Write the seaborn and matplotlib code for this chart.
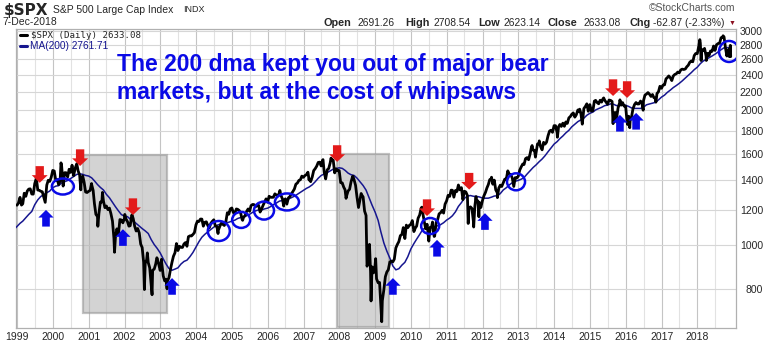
import numpy as np
import pandas as pd
import matplotlib
matplotlib.use("Agg")
import matplotlib.pyplot as plt
import matplotlib.dates as mdates
from matplotlib.patches import Ellipse, Rectangle
from matplotlib.lines import Line2D
from matplotlib.transforms import ScaledTranslation
import seaborn as sns

# ---------------- data (month-end closes, S&P 500) ----------------
close_1998 = [980.3, 1049.3, 1101.8, 1111.8, 1090.8, 1133.8, 1120.7, 957.3, 1017.0, 1098.7, 1163.6, 1229.2]
close_1999 = [1279.6, 1238.3, 1286.4, 1335.2, 1301.8, 1372.7, 1328.7, 1320.4, 1282.7, 1362.9, 1389.0, 1469.3]
close_2000 = [1394.5, 1366.4, 1498.6, 1452.4, 1420.6, 1454.6, 1430.8, 1517.7, 1436.5, 1429.4, 1315.2, 1320.3]
close_2001 = [1366.0, 1239.9, 1160.3, 1249.5, 1256.0, 1224.4, 1211.2, 1133.6, 1040.9, 1059.8, 1139.5, 1148.1]
close_2002 = [1130.2, 1106.7, 1147.4, 1076.9, 1067.1, 989.8, 911.6, 916.1, 815.3, 885.8, 936.3, 879.8]
close_2003 = [855.7, 841.2, 848.2, 916.9, 963.6, 974.5, 990.3, 1008.0, 996.0, 1050.7, 1058.2, 1111.9]
close_2004 = [1131.1, 1144.9, 1126.2, 1107.3, 1120.7, 1140.8, 1101.7, 1104.2, 1114.6, 1130.2, 1173.8, 1211.9]
close_2005 = [1181.3, 1203.6, 1180.6, 1156.9, 1191.5, 1191.3, 1234.2, 1220.3, 1228.8, 1207.0, 1249.5, 1248.3]
close_2006 = [1280.1, 1280.7, 1294.9, 1310.6, 1270.1, 1270.2, 1276.7, 1303.8, 1335.9, 1377.9, 1400.6, 1418.3]
close_2007 = [1438.2, 1406.8, 1420.9, 1482.4, 1530.6, 1503.4, 1455.3, 1474.0, 1526.8, 1549.4, 1481.1, 1468.4]
close_2008 = [1378.6, 1330.6, 1322.7, 1385.6, 1400.4, 1280.0, 1267.4, 1282.8, 1166.4, 968.8, 896.2, 903.3]
close_2009 = [825.9, 735.1, 797.9, 872.8, 919.1, 919.3, 987.5, 1020.6, 1057.1, 1036.2, 1095.6, 1115.1]
close_2010 = [1073.9, 1104.5, 1169.4, 1186.7, 1089.4, 1030.7, 1101.6, 1049.3, 1141.2, 1183.3, 1180.6, 1257.6]
close_2011 = [1286.1, 1327.2, 1325.8, 1363.6, 1345.2, 1320.6, 1292.3, 1218.9, 1131.4, 1253.3, 1247.0, 1257.6]
close_2012 = [1312.4, 1365.7, 1408.5, 1397.9, 1310.3, 1362.2, 1379.3, 1406.6, 1440.7, 1412.2, 1416.2, 1426.2]
close_2013 = [1498.1, 1514.7, 1569.2, 1597.6, 1630.7, 1606.3, 1685.7, 1633.0, 1681.6, 1756.5, 1805.8, 1848.4]
close_2014 = [1782.6, 1859.5, 1872.3, 1883.9, 1923.6, 1960.2, 1930.7, 2003.4, 1972.3, 2018.1, 2067.6, 2058.9]
close_2015 = [1995.0, 2104.5, 2067.9, 2085.5, 2107.4, 2063.1, 2103.8, 1972.2, 1920.0, 2079.4, 2080.4, 2043.9]
close_2016 = [1940.2, 1932.2, 2059.7, 2065.3, 2096.9, 2098.9, 2173.6, 2170.9, 2168.3, 2126.2, 2198.8, 2238.8]
close_2017 = [2278.9, 2363.6, 2362.7, 2384.2, 2411.8, 2423.4, 2470.3, 2471.7, 2519.4, 2575.3, 2647.6, 2673.6]
close_2018 = [2823.8, 2713.8, 2640.9, 2648.1, 2705.3, 2718.4, 2816.3, 2901.5, 2914.0, 2711.7, 2760.2, 2633.08]

# mid-month (around the 15th) levels
mid_1999 = [1243, 1230, 1307, 1322, 1337, 1301, 1409, 1327, 1317, 1247, 1397, 1418]
mid_2000 = [1465, 1402, 1392, 1356, 1452, 1478, 1509, 1484, 1465, 1374, 1383, 1312]
mid_2001 = [1326, 1326, 1173, 1179, 1250, 1214, 1202, 1178, 1038, 1089, 1142, 1123]
mid_2002 = [1147, 1104, 1166, 1103, 1091, 1007, 918, 930, 892, 881, 909, 910]
mid_2003 = [918, 834, 833, 885, 946, 1010, 996, 990, 1015, 1046, 1050, 1068]
mid_2004 = [1133, 1145, 1104, 1129, 1095, 1132, 1106, 1081, 1121, 1108, 1183, 1206]
mid_2005 = [1184, 1206, 1197, 1142, 1165, 1206, 1227, 1233, 1227, 1187, 1229, 1270]
mid_2006 = [1287, 1280, 1303, 1289, 1294, 1256, 1236, 1285, 1319, 1369, 1396, 1427]
mid_2007 = [1431, 1456, 1387, 1468, 1501, 1533, 1549, 1407, 1484, 1548, 1451, 1467]
mid_2008 = [1380, 1349, 1288, 1334, 1423, 1361, 1215, 1298, 1193, 908, 873, 869]
mid_2009 = [843, 827, 753, 852, 883, 923, 932, 1005, 1052, 1096, 1110, 1108]
mid_2010 = [1136, 1094, 1150, 1211, 1136, 1115, 1096, 1080, 1125, 1176, 1197, 1236]
mid_2011 = [1293, 1328, 1281, 1319, 1330, 1265, 1316, 1204, 1209, 1224, 1257, 1215]
mid_2012 = [1289, 1343, 1402, 1369, 1330, 1342, 1353, 1405, 1466, 1440, 1353, 1413]
mid_2013 = [1472, 1519, 1561, 1552, 1658, 1626, 1683, 1661, 1697, 1698, 1798, 1786]
mid_2014 = [1848, 1838, 1841, 1842, 1870, 1937, 1973, 1955, 1984, 1862, 2039, 1990]
mid_2015 = [1992, 2096, 2081, 2106, 2123, 2084, 2108, 2092, 1978, 2024, 2053, 2043]
mid_2016 = [1880, 1895, 2015, 2081, 2066, 2072, 2162, 2190, 2147, 2133, 2180, 2262]
mid_2017 = [2275, 2350, 2385, 2329, 2403, 2433, 2459, 2465, 2500, 2557, 2565, 2676]
mid_2018 = [2777, 2731, 2747, 2678, 2711, 2780, 2798, 2819, 2905, 2750, 2730]

# intra-month swing highs / lows
swing_dates = ["1999-07-16", "1999-10-15", "2000-03-24", "2000-04-14", "2000-09-01", "2000-10-12",
               "2001-01-30", "2001-04-04", "2001-05-21", "2001-09-21", "2002-01-04", "2002-03-19",
               "2002-07-23", "2002-08-22", "2002-10-09", "2002-11-27", "2003-01-14", "2003-03-11",
               "2004-08-12", "2005-04-20", "2006-05-05", "2006-06-13", "2007-02-27", "2007-07-19",
               "2007-08-15", "2007-10-09", "2008-03-10", "2008-05-19", "2008-07-15", "2008-08-11",
               "2008-10-10", "2008-11-04", "2008-11-20", "2009-01-06", "2009-03-09", "2010-04-23",
               "2010-07-02", "2010-08-09", "2010-08-26", "2011-04-29", "2011-08-08", "2011-10-03",
               "2011-10-27", "2011-11-25", "2012-04-02", "2012-06-01", "2012-09-14", "2012-11-15",
               "2013-05-21", "2013-06-24", "2013-08-02", "2014-02-03", "2014-09-18", "2014-10-15",
               "2015-05-21", "2015-08-25", "2015-09-29", "2015-11-03", "2016-01-20", "2016-02-11",
               "2016-06-27", "2016-08-15", "2016-11-04", "2018-01-26", "2018-02-08", "2018-04-02",
               "2018-09-20", "2018-10-29", "2018-11-23", "2018-12-03"]
swing_values = [1418.8, 1247.4, 1527.5, 1356.6, 1520.8, 1329.8,
                1373.7, 1103.3, 1312.8, 965.8, 1172.5, 1170.3,
                797.7, 962.7, 776.8, 938.9, 931.7, 800.7,
                1063.2, 1137.5, 1325.8, 1223.7, 1399.0, 1553.1,
                1406.7, 1565.2, 1273.4, 1426.6, 1214.9, 1305.3,
                899.2, 1005.8, 752.4, 934.7, 676.5, 1217.3,
                1022.6, 1127.8, 1047.2, 1363.6, 1119.5, 1099.2,
                1284.6, 1158.7, 1419.0, 1278.0, 1465.8, 1353.3,
                1669.2, 1573.1, 1709.7, 1741.9, 2011.4, 1862.5,
                2130.8, 1867.6, 1884.1, 2109.8, 1859.3, 1829.1,
                2000.5, 2190.2, 2085.2, 2872.9, 2581.0, 2581.9,
                2930.8, 2641.3, 2632.6, 2790.4]

shade_start = ["2000-11-03", "2007-12-08"]
shade_end = ["2003-03-10", "2009-05-22"]
shade_low = [707, 657]
shade_high = [1590, 1600]

sell_dates = ["1999-08-20", "2000-10-05", "2002-03-28", "2007-12-10", "2010-06-14", "2011-08-18", "2015-08-25", "2016-01-15"]
sell_values = [1379, 1503, 1169, 1535, 1163, 1332, 2152, 2131]
buy_dates = ["1999-10-23", "2001-12-16", "2003-05-01", "2009-07-01", "2010-09-24", "2012-01-26", "2015-11-03", "2016-04-16"]
buy_values = [1200, 1087, 846, 846, 1029, 1180, 1953, 1973]
circle_dates = ["2000-04-12", "2004-08-20", "2005-04-05", "2005-11-24", "2006-07-16", "2010-07-16", "2012-12-08", "2018-11-20"]
circle_values = [1353, 1077, 1140, 1196, 1250, 1105, 1386, 2704]
circle_w = [22, 22, 18, 20, 24, 18, 18, 20]
circle_h = [16, 20, 16, 18, 17, 16, 17, 21]

y_ticks = [800, 1000, 1200, 1400, 1600, 1800, 2000, 2200, 2400, 2600, 2800, 3000]
year_labels = list(range(1999, 2019))

quote_labels = ["Open", "High", "Low", "Close", "Chg"]
quote_values = ["2691.26", "2708.54", "2623.14", "2633.08", "-62.87 (-2.33%)"]

# ---------------- assemble ----------------
monthly = close_1998 + close_1999 + close_2000 + close_2001 + close_2002 + close_2003 + close_2004 + \
    close_2005 + close_2006 + close_2007 + close_2008 + close_2009 + close_2010 + close_2011 + \
    close_2012 + close_2013 + close_2014 + close_2015 + close_2016 + close_2017 + close_2018
m_dates = list(pd.date_range("1998-01-31", periods=len(monthly) - 1, freq="ME")) + [pd.Timestamp("2018-12-07")]
mdf = pd.DataFrame({"date": m_dates, "price": monthly})
mdf["ma"] = mdf["price"].rolling(10).mean()

mid = mid_1999 + mid_2000 + mid_2001 + mid_2002 + mid_2003 + mid_2004 + mid_2005 + mid_2006 + \
    mid_2007 + mid_2008 + mid_2009 + mid_2010 + mid_2011 + mid_2012 + mid_2013 + mid_2014 + \
    mid_2015 + mid_2016 + mid_2017 + mid_2018
mid_dates = pd.date_range("1999-01-01", periods=len(mid), freq="MS") + pd.Timedelta(days=14)
middf = pd.DataFrame({"date": mid_dates, "price": mid})

sdf = pd.DataFrame({"date": pd.to_datetime(swing_dates), "price": swing_values})
price = pd.concat([sdf, mdf[["date", "price"]], middf]).drop_duplicates(subset="date", keep="first")
price = price.sort_values("date")
price = price[price["date"] >= "1998-12-15"]
ma = mdf.dropna()
ma = ma[ma["date"] >= "1998-11-01"]

# ---------------- figure ----------------
W, H = 780, 345
fig = plt.figure(figsize=(W / 100, H / 100), dpi=100)
sns.set_style("white")
plt.rcParams["font.family"] = ["Liberation Sans", "DejaVu Sans"]
L, R, T, B = 16, 736, 29, 328
ax = fig.add_axes([L / W, 1 - B / H, (R - L) / W, (B - T) / H])

sns.lineplot(data=ma, x="date", y="ma", ax=ax, color="#16168f", lw=1.1, zorder=4)
sns.lineplot(data=price, x="date", y="price", ax=ax, color="black", lw=2.0, zorder=5)

ax.set_yscale("log")
ax.set_ylim(655, 3034)
ax.set_xlim(pd.Timestamp("1998-12-21"), pd.Timestamp("2019-01-30"))
ax.set_xlabel("")
ax.set_ylabel("")

# grid / ticks
ax.set_xticks([pd.Timestamp(f"{y}-01-01") for y in year_labels])
ax.set_xticklabels([str(y) for y in year_labels], fontsize=7.5)
ax.set_xticks([pd.Timestamp(f"{y}-07-01") for y in year_labels], minor=True)
ax.yaxis.tick_right()
ax.yaxis.set_minor_locator(matplotlib.ticker.NullLocator())
ax.set_yticks(y_ticks)
ax.set_yticklabels([str(v) for v in y_ticks], fontsize=7.5)
for lbl in ax.get_yticklabels():
    lbl.set_ha("right")
ax.tick_params(axis="y", which="major", pad=19.5, length=0)
ax.tick_params(axis="x", which="both", length=0, pad=3)
ax.grid(True, which="major", axis="x", color="#c4c4c4", lw=0.8, zorder=0)
ax.grid(True, which="minor", axis="x", color="#e2e2e2", lw=0.8, zorder=0)
ax.grid(True, which="major", axis="y", color="#d6d6d6", lw=0.8, zorder=0)
ax.set_axisbelow(True)
for s in ax.spines.values():
    s.set_color("#b0b0b0")
    s.set_linewidth(0.9)

# shaded bear-market boxes
for s0, s1, lo, hi in zip(shade_start, shade_end, shade_low, shade_high):
    x0 = mdates.date2num(pd.Timestamp(s0))
    x1 = mdates.date2num(pd.Timestamp(s1))
    ax.add_patch(Rectangle((x0, lo), x1 - x0, hi - lo, facecolor="#b6b6b6", alpha=0.6,
                           edgecolor="#9a9a9a", lw=1.6, zorder=2))

# arrows
for d, v in zip(sell_dates, sell_values):
    ax.annotate("", xy=(pd.Timestamp(d), v), xytext=(0, 12), textcoords="offset points",
                arrowprops=dict(facecolor="#e31a1a", edgecolor="none", width=6, headwidth=11.5,
                                headlength=5.5, shrink=0), zorder=7)
for d, v in zip(buy_dates, buy_values):
    ax.annotate("", xy=(pd.Timestamp(d), v), xytext=(0, -12), textcoords="offset points",
                arrowprops=dict(facecolor="#0a0ae6", edgecolor="none", width=5.5, headwidth=11,
                                headlength=5.5, shrink=0), zorder=7)
# circles
for d, v, w, h in zip(circle_dates, circle_values, circle_w, circle_h):
    xn = mdates.date2num(pd.Timestamp(d))
    tr = fig.dpi_scale_trans + ScaledTranslation(xn, v, ax.transData)
    ax.add_patch(Ellipse((0, 0), w / 100, h / 100, transform=tr, fill=False,
                         edgecolor="#0a0ae6", lw=1.8, zorder=8))

# ---------------- texts ----------------
def px(x, y):
    return x / W, 1 - y / H

fig.text(*px(4, 10), "\\$SPX", fontsize=11, weight="bold", family="DejaVu Sans", va="center")
fig.text(*px(53, 10), "S&P 500 Large Cap Index", fontsize=7.5, va="center")
fig.text(*px(183, 10), "INDX", fontsize=6.5, va="center")
fig.text(*px(2, 22), "7-Dec-2018", fontsize=7.5, va="center")
fig.text(*px(735, 8), "\u00a9StockCharts.com", fontsize=7.5, color="#555555", ha="right", va="center")

label_x = [323, 405, 478, 548, 630]
value_x = [358, 433, 503, 584, 653]
for lab, val, lx, vx in zip(quote_labels, quote_values, label_x, value_x):
    fig.text(*px(lx, 23), lab, fontsize=7.8, weight="bold", va="center")
    fig.text(*px(vx, 23), val, fontsize=7.4, va="center")
fig.text(*px(732, 23), "\u25bc", fontsize=5, color="#8b1020", ha="center", va="center")

# legend lines
fig.add_artist(Line2D([20 / W, 27 / W], [1 - 35 / H] * 2, color="black", lw=2.2))
fig.text(*px(31, 35), "\\$SPX (Daily) 2633.08", fontsize=6.6, family="DejaVu Sans Mono", va="center")
fig.add_artist(Line2D([20 / W, 27 / W], [1 - 46 / H] * 2, color="#16168f", lw=2.2))
fig.text(*px(30, 46), "MA(200) 2761.71", fontsize=7.3, color="#16168f", va="center")

# annotation
fig.text(*px(117, 65), "The 200 dma kept you out of major bear", fontsize=16.5, weight="bold",
         color="#0a0ae6", va="center")
fig.text(*px(117, 93), "markets, but at the cost of whipsaws", fontsize=16.5, weight="bold",
         color="#0a0ae6", va="center")

fig.savefig("out.png", dpi=100)
